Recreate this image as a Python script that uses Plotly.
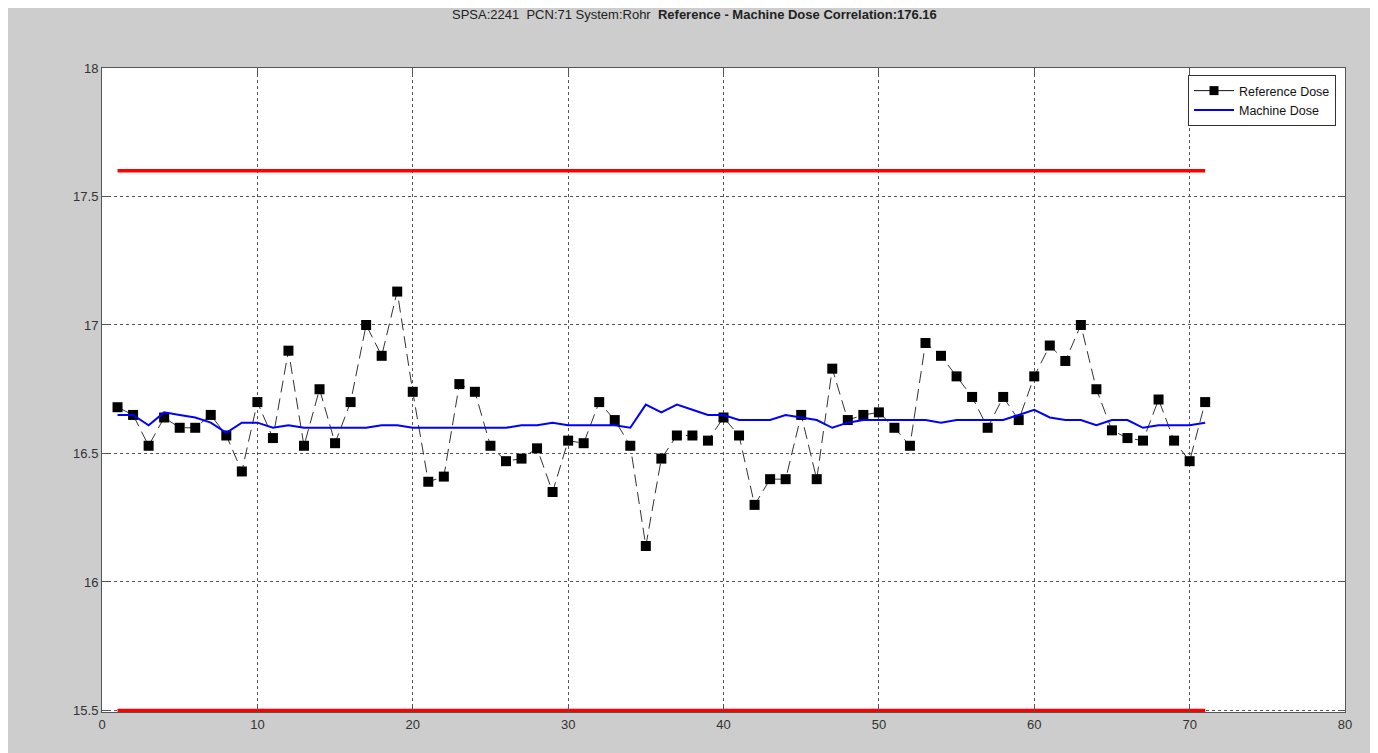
import plotly.graph_objects as go

x_idx = list(range(1, 72))
reference_dose = [16.68, 16.65, 16.53, 16.64, 16.60, 16.60, 16.65, 16.57, 16.43, 16.70,
                  16.56, 16.90, 16.53, 16.75, 16.54, 16.70, 17.00, 16.88, 17.13, 16.74,
                  16.39, 16.41, 16.77, 16.74, 16.53, 16.47, 16.48, 16.52, 16.35, 16.55,
                  16.54, 16.70, 16.63, 16.53, 16.14, 16.48, 16.57, 16.57, 16.55, 16.64,
                  16.57, 16.30, 16.40, 16.40, 16.65, 16.40, 16.83, 16.63, 16.65, 16.66,
                  16.60, 16.53, 16.93, 16.88, 16.80, 16.72, 16.60, 16.72, 16.63, 16.80,
                  16.92, 16.86, 17.00, 16.75, 16.59, 16.56, 16.55, 16.71, 16.55, 16.47,
                  16.70]
machine_dose = [16.65, 16.65, 16.61, 16.66, 16.65, 16.64, 16.62, 16.58, 16.62, 16.62,
                16.60, 16.61, 16.60, 16.60, 16.60, 16.60, 16.60, 16.61, 16.61, 16.60,
                16.60, 16.60, 16.60, 16.60, 16.60, 16.60, 16.61, 16.61, 16.62, 16.61,
                16.61, 16.61, 16.61, 16.60, 16.69, 16.66, 16.69, 16.67, 16.65, 16.65,
                16.63, 16.63, 16.63, 16.65, 16.64, 16.63, 16.60, 16.62, 16.63, 16.63,
                16.63, 16.63, 16.63, 16.62, 16.63, 16.63, 16.63, 16.63, 16.65, 16.67,
                16.64, 16.63, 16.63, 16.61, 16.63, 16.63, 16.60, 16.61, 16.61, 16.61,
                16.62]
upper_limit = 17.6
lower_limit = 15.5
limit_x = [1, 71]
x_ticks = [0, 10, 20, 30, 40, 50, 60, 70, 80]
y_ticks = [15.5, 16, 16.5, 17, 17.5, 18]
title_plain = "SPSA:2241  PCN:71 System:Rohr  "
title_bold = "Reference - Machine Dose Correlation:176.16"

# page body has an 8px margin; figure is offset by it
W, H = 1370, 745
L, R, T, B = 94, 33, 60, 41
pw, ph = W - L - R, H - T - B

fig = go.Figure()
fig.add_trace(go.Scatter(x=limit_x, y=[upper_limit] * 2, mode="lines",
                         line=dict(color="#ff0000", width=3.5), showlegend=False, hoverinfo="skip"))
fig.add_trace(go.Scatter(x=limit_x, y=[lower_limit] * 2, mode="lines",
                         line=dict(color="#ff0000", width=3.5), showlegend=False, hoverinfo="skip"))
fig.add_trace(go.Scatter(x=x_idx, y=reference_dose, mode="lines+markers", name="Reference Dose",
                         showlegend=False,
                         line=dict(color="#333333", width=1, dash="12px,6px"),
                         marker=dict(symbol="square", size=10, color="black")))
# legend entry (solid line with marker, as in the original legend)
fig.add_trace(go.Scatter(x=[None], y=[None], mode="lines+markers", name="Reference Dose",
                         line=dict(color="#111111", width=1),
                         marker=dict(symbol="square", size=9, color="black")))
fig.add_trace(go.Scatter(x=x_idx, y=machine_dose, mode="lines", name="Machine Dose",
                         line=dict(color="#0000ff", width=2)))

axis_common = dict(showline=True, linecolor="#555555", linewidth=1, mirror="ticks",
                   ticks="inside", ticklen=6, tickcolor="#555555",
                   showgrid=True, gridcolor="#555555", griddash="dot", gridwidth=1,
                   zeroline=False, tickfont=dict(family="Arial", size=13, color="#333333"))
fig.update_xaxes(range=[0, 80], tickvals=x_ticks, **axis_common)
fig.update_yaxes(range=[15.494, 18], tickvals=y_ticks, ticktext=[str(v) for v in y_ticks], **axis_common)

fig.update_layout(
    width=W, height=H,
    margin=dict(l=L, r=R, t=T, b=B),
    paper_bgcolor="#cdcdcd", plot_bgcolor="white",
    legend=dict(x=(1188 - 102) / pw, y=1 - (75 - 68) / ph, xanchor="left", yanchor="top",
                bgcolor="white", bordercolor="#333333", borderwidth=1,
                font=dict(family="Arial", size=12.5, color="#111111"),
                tracegroupgap=0, itemwidth=40),
    annotations=[
        dict(xref="paper", yref="paper", x=(694 - 102) / pw, y=1 + (68 - 15) / ph,
             xanchor="center", yanchor="middle", showarrow=False,
             text=title_plain + "<b>" + title_bold + "</b>",
             font=dict(family="Arial", size=13, color="#222222"))
    ],
)

fig.write_html("out.html")
